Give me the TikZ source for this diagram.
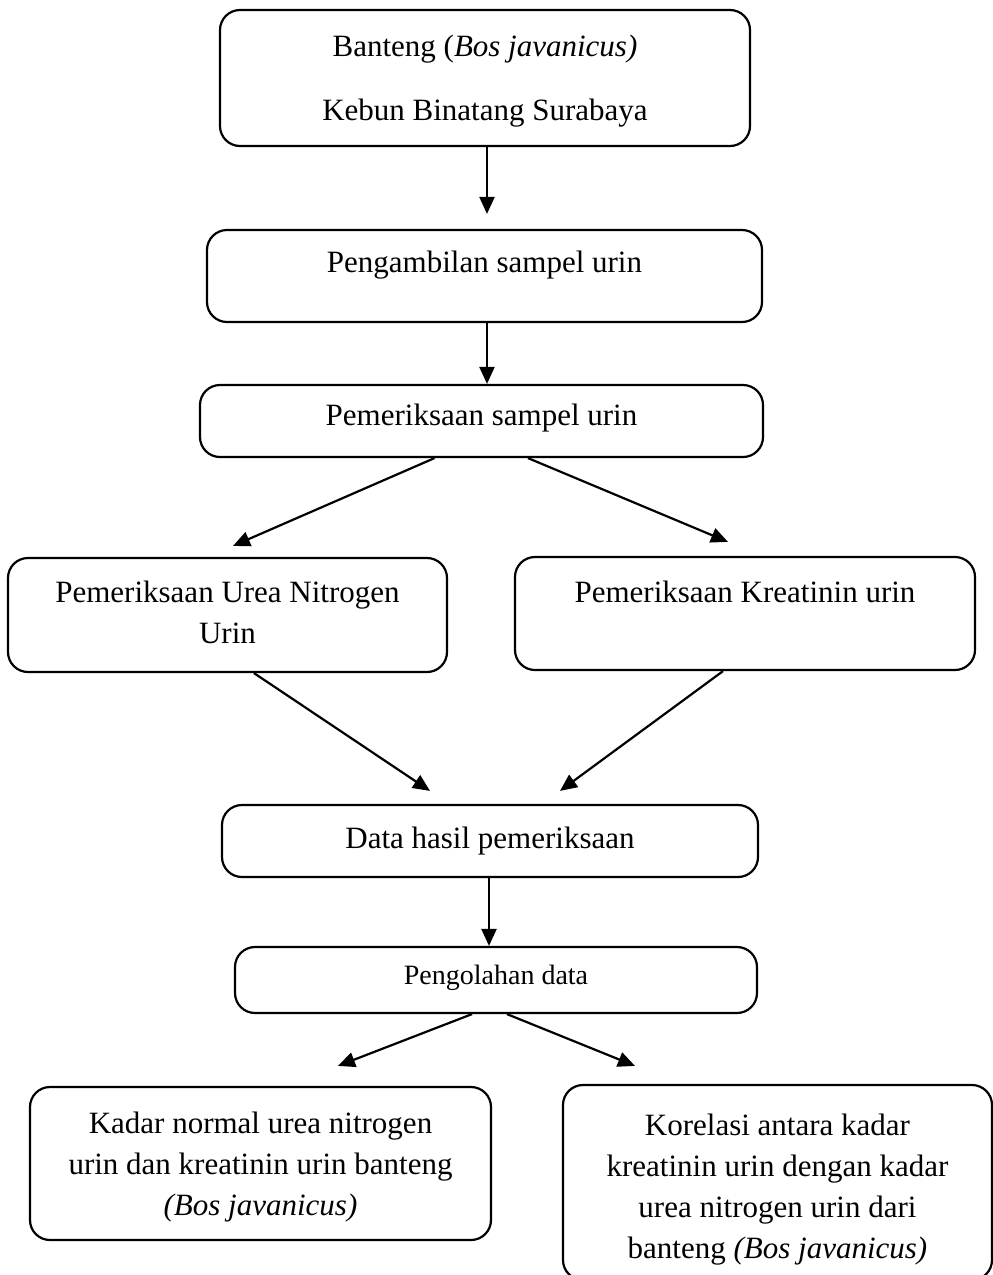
\documentclass[tikz,border=0pt]{standalone}
\usepackage{fontspec}
\setmainfont{Liberation Serif}
\usetikzlibrary{arrows.meta}

\begin{document}
\begin{tikzpicture}[x=1pt,y=-1pt]
\useasboundingbox (0,0) rectangle (993,1275);

\begin{scope}[every node/.style={draw,rounded corners=20pt,line width=2.2pt,align=center,inner sep=0pt,
                                 font=\fontsize{31}{41}\selectfont}]
    %the boxes, each one placed at its centre
    %text height and text depth push the (last line of) text up or down inside the box
    \node (sumber) at (485,78) [minimum width=530pt,minimum height=136pt,text height=92pt,text depth=8pt]
        {Banteng (\textit{Bos javanicus)}\\[23pt] Kebun Binatang Surabaya};
    \node (ambil) at (484.5,276) [minimum width=555pt,minimum height=92pt,text height=20pt,text depth=28pt]
        {Pengambilan sampel urin};
    \node (periksa) at (481.5,421) [minimum width=563pt,minimum height=72pt,text height=24pt,text depth=16pt]
        {Pemeriksaan sampel urin};
    \node (urea) at (227.5,615) [minimum width=439pt,minimum height=114pt,text height=66pt,text depth=10pt]
        {Pemeriksaan Urea Nitrogen\\ Urin};
    \node (kreat) at (745,613.5) [minimum width=460pt,minimum height=113pt,text height=20pt,text depth=43pt]
        {Pemeriksaan Kreatinin urin};
    \node (data) at (490,841) [minimum width=536pt,minimum height=72pt,text height=24pt,text depth=10pt]
        {Data hasil pemeriksaan};
    \node (olah) at (496,980) [minimum width=522pt,minimum height=66pt,text height=20pt,text depth=12pt,
                               font=\fontsize{28}{34}\selectfont]
        {Pengolahan data};
    \node (normal) at (260.5,1163.5) [minimum width=461pt,minimum height=153pt,text height=115pt,text depth=12pt]
        {Kadar normal urea nitrogen\\ urin dan kreatinin urin banteng\\ \textit{(Bos javanicus)}};
    \node (korelasi) at (777.5,1182.5) [minimum width=429pt,minimum height=195pt,text height=163pt,text depth=12pt]
        {Korelasi antara kadar\\ kreatinin urin dengan kadar\\ urea nitrogen urin dari\\ banteng \textit{(Bos javanicus)}};
\end{scope}

%all of the arrows, black with a filled triangle tip
\begin{scope}[>={Triangle[length=17pt,width=15pt]},
              every edge/.style={draw,line width=2.2pt}]
    %straight down from the top box
    \path [->] ([xshift=2pt]sumber.south) edge ([xshift=2.5pt,yshift=15pt]ambil.north);
    \path [->] ([xshift=2.5pt]ambil.south) edge ([xshift=5.5pt]periksa.north);
    %splits to the two tests
    \path [->] ([xshift=-47pt]periksa.south) edge ([xshift=5.5pt,yshift=11pt]urea.north);
    \path [->] ([xshift=46.5pt]periksa.south) edge ([xshift=-17pt,yshift=14pt]kreat.north);
    %joins again at the data box
    \path [->] ([xshift=26.5pt]urea.south) edge ([xshift=-60pt,yshift=13pt]data.north);
    \path [->] ([xshift=-22pt]kreat.south) edge ([xshift=70pt,yshift=13pt]data.north);
    \path [->] ([xshift=-1pt]data.south) edge ([xshift=-7pt]olah.north);
    %and splits to the two results
    \path [->] ([xshift=-24pt]olah.south) edge ([xshift=77.5pt,yshift=20pt]normal.north);
    \path [->] ([xshift=11pt]olah.south) edge ([xshift=-142.5pt,yshift=18pt]korelasi.north);
\end{scope}
\end{tikzpicture}
\end{document}
